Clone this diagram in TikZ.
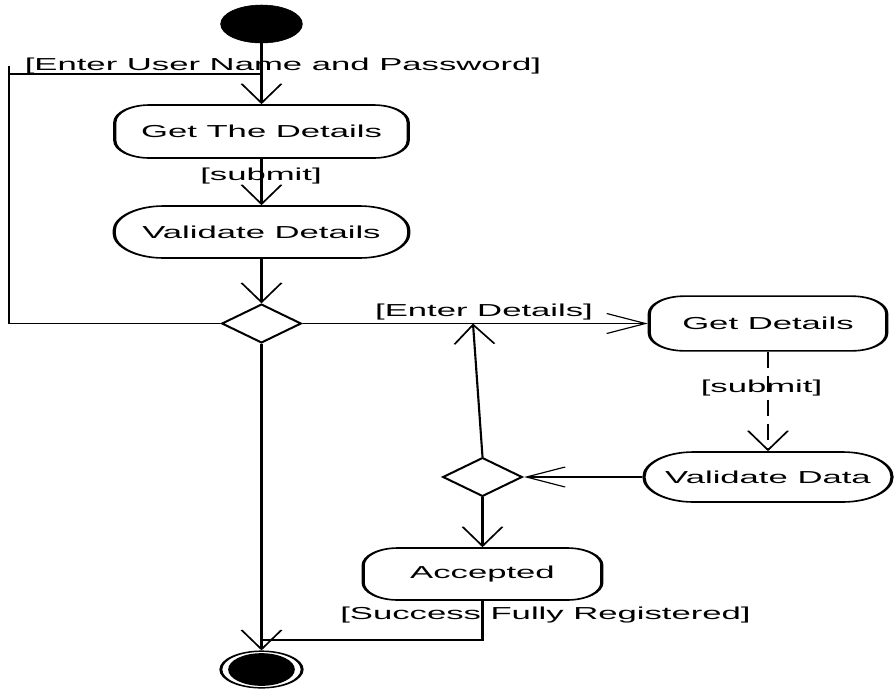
\documentclass[tikz,border=0pt]{standalone}
\usepackage{fontspec}
\setmainfont{Liberation Sans}
\usetikzlibrary{shapes.geometric,arrows.meta}

\tikzset{
  initial/.style={ellipse,fill=black,draw=black,minimum width=30.5pt,minimum height=28.5pt,inner sep=0pt},
  activity/.style={rectangle,draw=black,line width=1.2pt,rounded corners=13pt,inner sep=2pt},
  checking/.style={rectangle,draw=black,line width=1.2pt,rounded corners=18.5pt,inner sep=2pt},
  decision/.style={diamond,draw=black,line width=1.2pt,minimum width=30pt,minimum height=29pt,inner sep=0pt},
  final/.style={ellipse,draw=black,line width=1.1pt,minimum width=30.5pt,minimum height=27.5pt,inner sep=0pt},
  finaldot/.style={ellipse,fill=black,minimum width=25pt,minimum height=24.5pt,inner sep=0pt},
  guard/.style={inner sep=0pt},
  line/.style={line width=0.8pt},
  flow/.style={line width=0.8pt,-{Straight Barb[length=14.5pt,width=15pt]}}
}

\begin{document}
\begin{tikzpicture}[x=0.75pt,y=-0.75pt,font=\fontsize{13}{15}\selectfont]
  \useasboundingbox (0,0) rectangle (896,690);
  \begin{scope}[transform canvas={xscale=2}]
    \node[initial] (start) at (130.75,24) {};
    \node[activity,minimum width=110pt,minimum height=39.75pt] (getdet) at (130.75,131.5) {Get The Details};
    \node[checking,minimum width=110.5pt,minimum height=39pt] (valdet) at (130.75,232) {Validate Details};
    \node[decision] (dec1) at (130.75,323.5) {};
    \node[activity,minimum width=89pt,minimum height=41pt] (getdata) at (384,323.5) {Get Details};
    \node[checking,minimum width=93pt,minimum height=37.5pt] (valdata) at (384,477) {Validate Data};
    \node[decision] (dec2) at (241.25,477) {};
    \node[activity,minimum width=89.5pt,minimum height=39pt] (accepted) at (241.25,574) {Accepted};
    \node[final] (stopring) at (130.75,669.5) {};
    \node[finaldot] (stop) at (130.75,669.5) {};

    \coordinate (looptop) at (4.5,66);
    \coordinate (loopcorner) at (4.5,74);
    \coordinate (loopjoin) at (130.75,74);
    \coordinate (hit) at (236.5,323.5);
    \coordinate (donejoin) at (130.75,640);

    \node[guard] (lbluser) at (141.5,66) {[Enter User Name and Password]};
    \node[guard] (lblsubmit) at (130.5,176) {[submit]};
    \node[guard] (lblenter) at (242,312) {[Enter Details]};
    \node[guard] (lblsubmitb) at (380.75,388) {[submit]};
    \node[guard] (lbldone) at (272.75,615) {[Success Fully Registered]};

    \draw[flow] (start) -- (getdet);
    \draw[flow] (getdet) -- (valdet);
    \draw[flow] (valdet) -- (dec1);
    \draw[line] (dec1.west) -| (looptop);
    \draw[line] (loopcorner) -- (loopjoin);
    \draw[flow] (dec1) -- (getdata);
    \draw[flow,dash pattern=on 12pt off 6pt] (getdata) -- (valdata);
    \draw[flow] (valdata) -- (dec2);
    \draw[flow] (dec2.north) -- (hit);
    \draw[flow] (dec2) -- (accepted);
    \draw[line] (accepted.south) |- (donejoin);
    \draw[flow] (dec1) -- (stopring);
  \end{scope}
\end{tikzpicture}
\end{document}
